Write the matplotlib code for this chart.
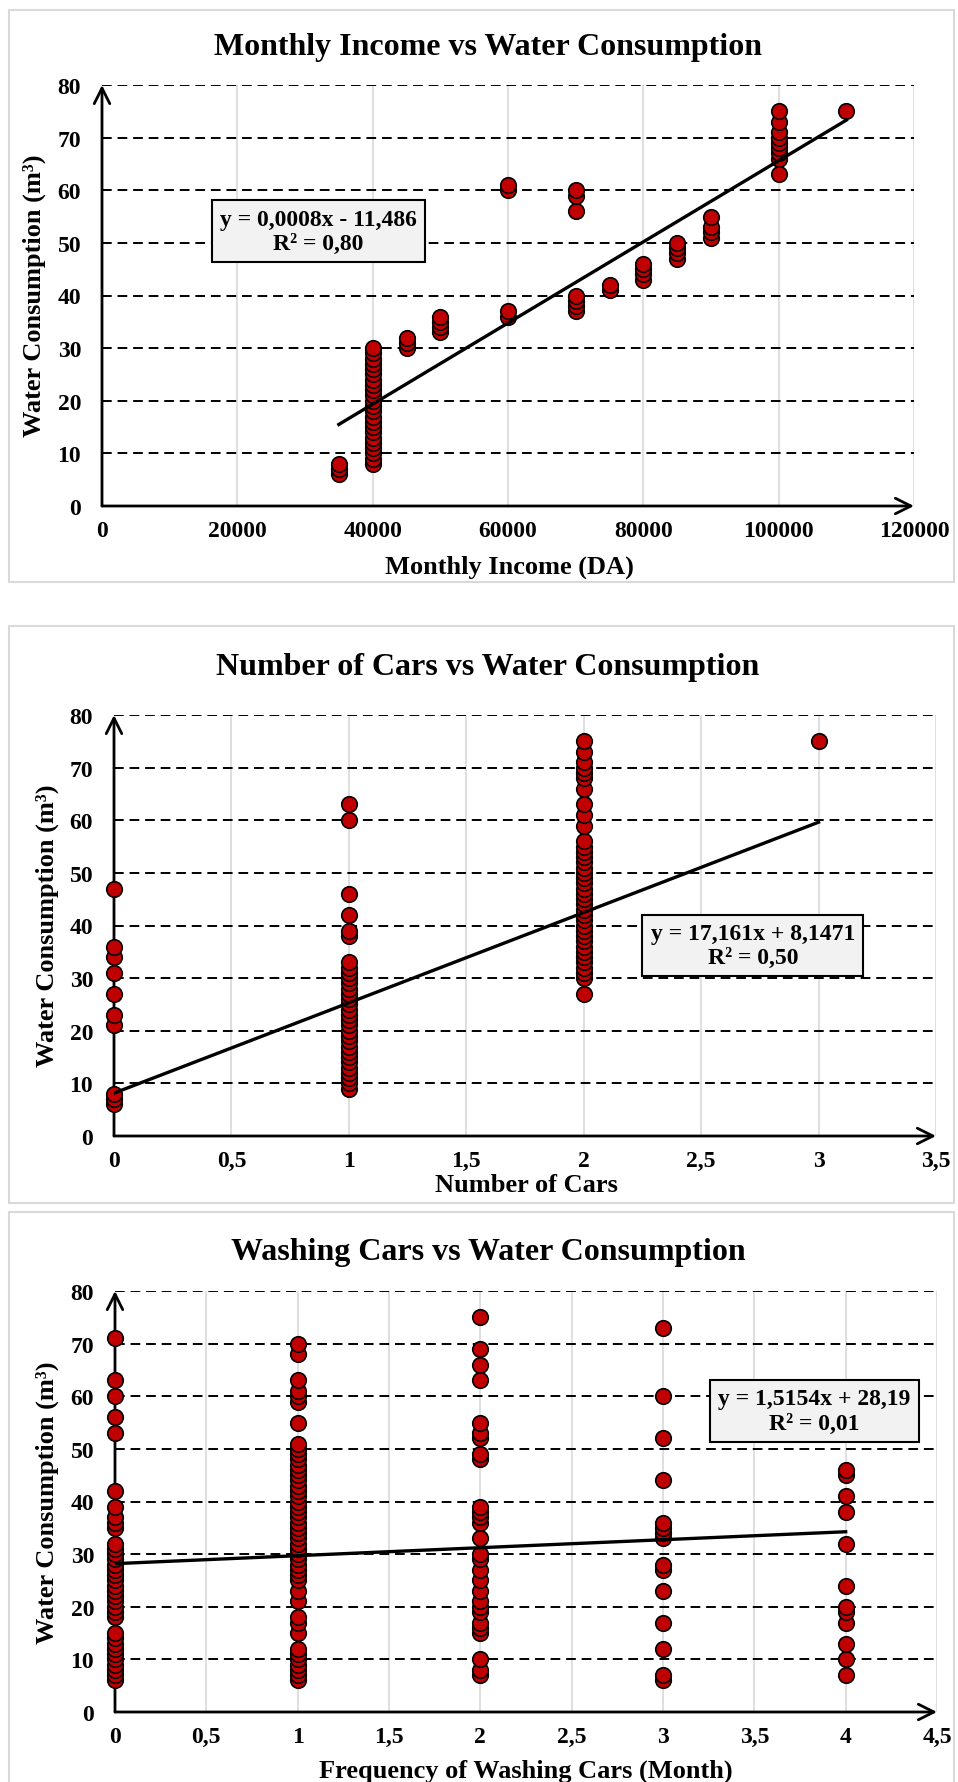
import numpy as np
import matplotlib
matplotlib.use("Agg")
import matplotlib.pyplot as plt
from matplotlib.patches import Rectangle
from matplotlib.ticker import FuncFormatter

plt.rcParams['font.family'] = ['Liberation Serif', 'DejaVu Serif']
plt.rcParams['font.weight'] = 'bold'

# ---- data ----
# panel 1: monthly income (DA) vs consumption (m3)
income_levels = [35000, 40000, 45000, 50000, 60000, 70000, 75000, 80000, 85000, 90000, 100000, 110000]
income_cons = [
    [6, 7, 8],
    list(range(8, 31)),
    [30, 31, 32],
    [33, 34, 35, 36],
    [36, 37, 60, 61],
    [37, 38, 39, 40, 56, 59, 60],
    [41, 42],
    [43, 44, 45, 46],
    [47, 48, 49, 50],
    [51, 52, 53, 55],
    [63, 66, 67, 68, 69, 70, 71, 73, 75],
    [75],
]
income_trend = (0.000771, -11.486)
income_eq = "y = 0,0008x - 11,486\nR² = 0,80"

# panel 2: number of cars
cars_levels = [0, 1, 2, 3]
cars_cons = [
    [6, 7, 8, 21, 23, 27, 31, 34, 36, 47],
    list(range(9, 32)) + [32, 33, 38, 39, 42, 46, 60, 63],
    [27] + list(range(30, 57)) + [59, 61, 63, 66, 68, 69, 70, 71, 73, 75],
    [75],
]
cars_trend = (17.161, 8.1471)
cars_eq = "y = 17,161x + 8,1471\nR² = 0,50"

# panel 3: washing frequency per month
wash_levels = [0, 1, 2, 3, 4]
wash_cons = [
    list(range(6, 16)) + list(range(18, 33)) + [35, 36, 37, 39, 42, 53, 56, 60, 63, 71],
    list(range(6, 13)) + [15, 17, 18, 21, 23] + list(range(25, 52)) + [55, 59, 60, 61, 63, 68, 70],
    [7, 8, 10, 15, 16, 17, 19, 20, 21, 23, 25, 27, 29, 30, 33, 36, 37, 38, 39, 48, 49, 52, 53, 55, 63, 66, 69, 75],
    [6, 7, 12, 17, 23, 27, 28, 33, 34, 35, 36, 44, 52, 60, 73],
    [7, 10, 13, 17, 19, 20, 24, 32, 38, 41, 45, 46],
]
wash_trend = (1.5154, 28.19)
wash_eq = "y = 1,5154x + 28,19\nR² = 0,01"

W, H = 958, 1783
fig = plt.figure(figsize=(W / 100, H / 100), dpi=100)


def px_axes(left, right, y0, y80):
    return fig.add_axes([left / W, 1 - y0 / H, (right - left) / W, (y0 - y80) / H])


def comma(v, pos):
    return ('%g' % v).replace('.', ',')


def draw_panel(ax, levels, cons, trend, eq, xmax, xstep, eq_pos, fmt):
    xs = np.concatenate([[lv] * len(c) for lv, c in zip(levels, cons)])
    ys = np.concatenate([np.array(c, dtype=float) for c in cons])

    ax.set_xlim(0, xmax)
    ax.set_ylim(0, 80)
    xt = np.arange(0, xmax + xstep / 2, xstep)
    ax.set_xticks(xt)
    ax.set_yticks(np.arange(0, 81, 10))
    ax.xaxis.set_major_formatter(FuncFormatter(fmt))
    ax.tick_params(length=0, labelsize=17)
    ax.tick_params(axis='x', pad=10)
    ax.tick_params(axis='y', pad=15)
    for lab in ax.get_xticklabels() + ax.get_yticklabels():
        lab.set_fontweight('bold')
    for sp in ax.spines.values():
        sp.set_visible(False)

    for x in xt[1:]:
        ax.axvline(x, color='#d9d9d9', lw=1.2, zorder=0)
    for y in np.arange(10, 81, 10):
        ax.axhline(y, color='black', lw=1.4, ls=(0, (5, 3)), zorder=1)

    ax.annotate('', xy=(xmax, 0), xytext=(0, 0),
                arrowprops=dict(arrowstyle='->', lw=2, color='black',
                                mutation_scale=28, shrinkA=0, shrinkB=0),
                annotation_clip=False, zorder=3)
    ax.annotate('', xy=(0, 80), xytext=(0, 0),
                arrowprops=dict(arrowstyle='->', lw=2, color='black',
                                mutation_scale=28, shrinkA=0, shrinkB=0),
                annotation_clip=False, zorder=3)

    ax.scatter(xs, ys, s=125, c='#c00000', edgecolors='black', linewidths=1.2,
               zorder=4, clip_on=False)

    lx = np.array([xs.min(), xs.max()])
    ax.plot(lx, trend[0] * lx + trend[1], color='black', lw=2.4, zorder=5)

    ax.text(eq_pos[0], eq_pos[1], eq, ha='center', va='center', fontsize=17,
            fontweight='bold', linespacing=1.2, zorder=6,
            bbox=dict(boxstyle='square,pad=0.35', fc='#f2f2f2', ec='black', lw=1.5))


# panel borders
for top, bot in [(11, 583), (627, 1204), (1213, 1795)]:
    fig.add_artist(Rectangle((9 / W, 1 - bot / H), 945 / W, (bot - top) / H,
                             transform=fig.transFigure, fill=False,
                             ec='#d9d9d9', lw=1.5))

# panel 1
ax1 = px_axes(102, 914, 507, 86)
draw_panel(ax1, income_levels, income_cons, income_trend, income_eq,
           120000, 20000, (32000, 52.2), lambda v, p: '%d' % v)
fig.text(488 / W, 1 - 47 / H, 'Monthly Income vs Water Consumption',
         ha='center', va='center', fontsize=23, fontweight='bold')
fig.text(509 / W, 1 - 567 / H, 'Monthly Income (DA)', ha='center', va='center',
         fontsize=19, fontweight='bold')
fig.text(34 / W, 1 - 296 / H, 'Water Consumption (m³)', ha='center', va='center',
         rotation=90, fontsize=19, fontweight='bold')

# panel 2
ax2 = px_axes(114, 936, 1137, 716)
draw_panel(ax2, cars_levels, cars_cons, cars_trend, cars_eq,
           3.5, 0.5, (2.72, 36.2), comma)
fig.text(488 / W, 1 - 668 / H, 'Number of Cars vs Water Consumption',
         ha='center', va='center', fontsize=23, fontweight='bold')
fig.text(526 / W, 1 - 1186 / H, 'Number of Cars', ha='center', va='center',
         fontsize=19, fontweight='bold')
fig.text(47 / W, 1 - 926 / H, 'Water Consumption (m³)', ha='center', va='center',
         rotation=90, fontsize=19, fontweight='bold')

# panel 3
ax3 = px_axes(115, 937, 1713, 1292)
draw_panel(ax3, wash_levels, wash_cons, wash_trend, wash_eq,
           4.5, 0.5, (3.83, 57.2), comma)
fig.text(488 / W, 1 - 1253 / H, 'Washing Cars vs Water Consumption',
         ha='center', va='center', fontsize=23, fontweight='bold')
fig.text(526 / W, 1 - 1771 / H, 'Frequency of Washing Cars (Month)', ha='center',
         va='center', fontsize=19, fontweight='bold')
fig.text(47 / W, 1 - 1503 / H, 'Water Consumption (m³)', ha='center', va='center',
         rotation=90, fontsize=19, fontweight='bold')

fig.savefig('out.png', dpi=100)
